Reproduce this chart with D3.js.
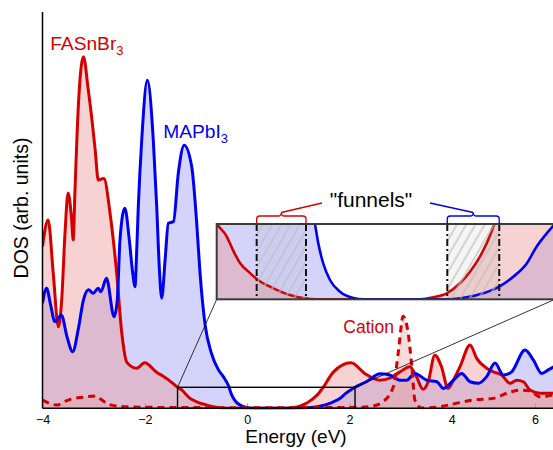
<!DOCTYPE html>
<html>
<head>
<meta charset="utf-8">
<script src="https://cdn.jsdelivr.net/npm/d3@7"></script>
<style>
  body { margin: 0; background: #fff; }
  text { font-family: "Liberation Sans", Arial, sans-serif; }
</style>
</head>
<body>
<div id="chart"></div>
<script>
// DOS curves, [energy (eV), DOS (arb. units, 100 = top of axis)]
var fasnbr3 = [[-4.00,40.8],[-3.89,47.5],[-3.79,34.1],[-3.69,20.6],[-3.625,27.3],[-3.56,44.2],[-3.50,54.3],
  [-3.43,47.5],[-3.40,42.5],[-3.365,55.0],[-3.30,76.1],[-3.20,88.7],[-3.105,80.3],[-3.04,73.6],[-2.97,65.2],
  [-2.91,57.6],[-2.80,58.0],[-2.68,49.3],[-2.55,34.1],[-2.45,19.0],[-2.35,11.6],[-2.16,10.1],[-2.00,11.5],
  [-1.77,9.1],[-1.64,8.1],[-1.45,6.3],[-1.36,5.30],[-1.257,4.42],[-1.193,3.46],[-1.121,2.55],[-1.018,1.84],
  [-0.936,1.36],[-0.783,0.79],[-0.608,0.30],[-0.475,0.09],[-0.334,0],[0.725,0],[0.862,0.14],[0.999,0.42],
  [1.135,1.13],[1.238,1.94],[1.34,3.00],[1.409,3.94],[1.477,5.10],[1.69,9.2],[2.03,11.5],[2.30,8.8],
  [2.60,7.1],[2.79,7.6],[2.99,9.2],[3.18,10.5],[3.31,8.0],[3.44,4.8],[3.54,6.7],[3.67,13.4],[3.80,10.5],
  [3.93,5.0],[4.04,7.1],[4.20,10.5],[4.44,16.0],[4.60,12.6],[4.84,10.1],[5.00,9.2],[5.20,8.4],[5.40,6.3],
  [5.56,7.1],[5.72,6.7],[5.88,4.6],[6.12,3.8],[6.45,3.8]];

var mapbi3 = [[-4.00,26.5],[-3.92,30.3],[-3.84,26.0],[-3.76,21.9],[-3.63,23.5],[-3.52,18.0],[-3.41,14.3],
  [-3.30,20.0],[-3.20,27.3],[-3.10,29.9],[-3.01,29.0],[-2.91,30.3],[-2.86,29.4],[-2.75,32.8],[-2.60,23.1],
  [-2.538,27.3],[-2.485,42.5],[-2.39,50.5],[-2.303,42.5],[-2.236,34.1],[-2.19,30.7],[-2.17,35.7],
  [-2.127,50.9],[-2.06,67.7],[-1.95,82.8],[-1.834,67.7],[-1.767,50.9],[-1.717,35.7],[-1.67,27.8],
  [-1.60,38.0],[-1.54,46.7],[-1.44,47.1],[-1.345,59.3],[-1.23,66.4],[-1.083,61.0],[-0.985,46.7],
  [-0.92,34.1],[-0.82,21.0],[-0.70,14.0],[-0.56,9.7],[-0.465,8.0],[-0.352,5.30],[-0.318,3.94],
  [-0.267,2.52],[-0.198,1.36],[-0.095,0.53],[0.041,0.09],[0.15,0],[0.999,0],[1.204,0.14],[1.374,0.42],
  [1.546,0.93],[1.682,1.59],[1.82,2.52],[1.922,3.71],[2.025,4.64],[2.11,5.30],[2.33,6.7],[2.60,8.7],
  [2.79,8.4],[2.99,7.1],[3.12,7.1],[3.28,8.8],[3.51,7.1],[3.71,6.7],[3.84,5.0],[4.04,7.1],[4.24,8.8],
  [4.44,6.7],[4.64,6.3],[4.84,8.0],[5.04,11.4],[5.24,8.4],[5.44,9.2],[5.76,14.7],[5.96,12.2],[6.16,8.8],
  [6.32,9.7],[6.45,10.5]];

var cation = [[-4.00,2.1],[-3.85,1.2],[-3.72,0.83],[-3.55,1.8],[-3.40,2.5],[-3.20,2.8],[-2.97,3.1],
  [-2.85,2.2],[-2.75,1.26],[-2.55,0.58],[-2.00,0.25],[0,0.15],[2.20,0.25],[2.46,0.58],[2.66,1.67],
  [2.86,5.5],[2.96,14.6],[3.05,23.2],[3.15,18.9],[3.22,10.5],[3.28,2.1],[3.41,0.1],[3.77,0.4],[4.04,1.1],
  [4.52,2.1],[5.00,2.5],[5.32,3.8],[5.64,4.6],[5.88,4.4],[6.12,2.9],[6.45,3.4]];

var xTicks = [-4, -2, 0, 2, 4, 6];
var zoomBox = [-1.36, 2.11, 5.3];            // energy from, energy to, DOS top
var funnels = [[-0.95, -0.444], [1.005, 1.538]];

var red = "#d40000", blue = "#0000f0";

var width = 553, height = 450;
var svg = d3.select("#chart").append("svg")
  .attr("width", width).attr("height", height);

// x axis is stretched differently past 4 eV in the original
var x = d3.scaleLinear().domain([-4, 4, 6]).range([42.5, 451.7, 535]);
var y = d3.scaleLinear().domain([0, 100]).range([408.3, 12]);

// inset (zoomed) scales
var inset = {x0: 216.7, x1: 555, y0: 224, y1: 299.3};
var xi = d3.scaleLinear().domain([zoomBox[0], zoomBox[1]]).range([inset.x0, inset.x1]);
var yi = d3.scaleLinear().domain([0, zoomBox[2]]).range([inset.y1, inset.y0]);

var defs = svg.append("defs");
defs.append("clipPath").attr("id", "plotclip").append("rect")
  .attr("x", x(-4)).attr("y", y(100)).attr("width", width - x(-4)).attr("height", y(0) - y(100) + 1);
defs.append("clipPath").attr("id", "insetclip").append("rect")
  .attr("x", inset.x0).attr("y", inset.y0).attr("width", inset.x1 - inset.x0).attr("height", inset.y1 - inset.y0);
var pat = defs.append("pattern").attr("id", "hatch")
  .attr("patternUnits", "userSpaceOnUse").attr("width", 8).attr("height", 8)
  .attr("patternTransform", "rotate(30)");
pat.append("rect").attr("width", 8).attr("height", 8).attr("fill", "rgba(120,120,120,0.07)");
pat.append("line").attr("x1", 4).attr("y1", 0).attr("x2", 4).attr("y2", 8)
  .attr("stroke", "rgba(190,190,190,0.6)").attr("stroke-width", 2.2);

// ticks (inward, under the fills)
var xAxisCall = d3.axisBottom(x).tickValues(xTicks).tickSizeInner(-5).tickSizeOuter(0).tickPadding(7)
  .tickFormat(d3.format("d"));
var gx = svg.append("g").attr("transform", "translate(0," + y(0) + ")").call(xAxisCall);
gx.select(".domain").remove();
gx.selectAll(".tick line").attr("stroke", "#999");
gx.selectAll(".tick text").attr("font-size", "12.5px").attr("fill", "#000")
  .style("font-family", "'Liberation Sans', Arial, sans-serif");

function drawCurves(g, sx, sy, withCation, lw) {
  var area = d3.area().x(function(d){ return sx(d[0]); }).y0(sy(0))
    .y1(function(d){ return sy(d[1]); }).curve(d3.curveMonotoneX);
  var line = d3.line().x(function(d){ return sx(d[0]); })
    .y(function(d){ return sy(d[1]); }).curve(d3.curveMonotoneX);
  g.append("path").datum(mapbi3).attr("d", area).attr("fill", "rgba(40,40,235,0.2)");
  g.append("path").datum(fasnbr3).attr("d", area).attr("fill", "rgba(236,155,155,0.45)");
  if (withCation) {
    g.append("path").datum(cation).attr("d", area).attr("fill", "rgba(236,155,155,0.35)");
  }
  g.append("path").datum(fasnbr3).attr("d", line).attr("fill", "none")
    .attr("stroke", red).attr("stroke-width", lw).attr("stroke-linejoin", "round");
  g.append("path").datum(mapbi3).attr("d", line).attr("fill", "none")
    .attr("stroke", blue).attr("stroke-width", lw).attr("stroke-linejoin", "round");
  if (withCation) {
    g.append("path").datum(cation).attr("d", line).attr("fill", "none")
      .attr("stroke", red).attr("stroke-width", lw).attr("stroke-dasharray", "7,5");
  }
}

var main = svg.append("g").attr("clip-path", "url(#plotclip)");
drawCurves(main, x, y, true, 3);

// zoom rectangle in main plot and connector lines
svg.append("rect")
  .attr("x", x(zoomBox[0])).attr("y", y(zoomBox[2]))
  .attr("width", x(zoomBox[1]) - x(zoomBox[0])).attr("height", y(0) - y(zoomBox[2]))
  .attr("fill", "none").attr("stroke", "#000").attr("stroke-width", 1.4);
svg.append("line").attr("x1", x(zoomBox[0])).attr("y1", y(zoomBox[2]))
  .attr("x2", inset.x0).attr("y2", inset.y1).attr("stroke", "#000").attr("stroke-width", 0.8);
svg.append("line").attr("x1", x(zoomBox[1])).attr("y1", y(zoomBox[2]))
  .attr("x2", inset.x1).attr("y2", inset.y1).attr("stroke", "#000").attr("stroke-width", 0.8);

// inset
svg.append("rect").attr("x", inset.x0).attr("y", inset.y0)
  .attr("width", inset.x1 - inset.x0).attr("height", inset.y1 - inset.y0).attr("fill", "#fff");
var ig = svg.append("g").attr("clip-path", "url(#insetclip)");
drawCurves(ig, xi, yi, false, 2.6);

funnels.forEach(function(f) {
  ig.append("rect").attr("x", xi(f[0])).attr("y", inset.y0)
    .attr("width", xi(f[1]) - xi(f[0])).attr("height", inset.y1 - inset.y0)
    .attr("fill", "url(#hatch)");
  f.forEach(function(e) {
    ig.append("line").attr("x1", xi(e)).attr("x2", xi(e)).attr("y1", inset.y0).attr("y2", inset.y1)
      .attr("stroke", "#111").attr("stroke-width", 2).attr("stroke-dasharray", "7,3,2,3");
  });
});

svg.append("rect").attr("x", inset.x0).attr("y", inset.y0)
  .attr("width", inset.x1 - inset.x0).attr("height", inset.y1 - inset.y0)
  .attr("fill", "none").attr("stroke", "#3a3a3a").attr("stroke-width", 2);

// braces over the funnels
function brace(xa, xb, yb) {
  var xm = (xa + xb) / 2, p = d3.path();
  p.moveTo(xa, yb); p.lineTo(xa, yb - 5);
  p.quadraticCurveTo(xa, yb - 8, xa + 3, yb - 8);
  p.lineTo(xm - 3, yb - 8);
  p.quadraticCurveTo(xm, yb - 8, xm, yb - 11.5);
  p.quadraticCurveTo(xm, yb - 8, xm + 3, yb - 8);
  p.lineTo(xb - 3, yb - 8);
  p.quadraticCurveTo(xb, yb - 8, xb, yb - 5);
  p.lineTo(xb, yb);
  return p.toString();
}
var braceCol = [red, blue];
var textEnds = [322, 430];
funnels.forEach(function(f, i) {
  var xa = xi(f[0]), xb = xi(f[1]);
  svg.append("path").attr("d", brace(xa, xb, inset.y0)).attr("fill", "none")
    .attr("stroke", braceCol[i]).attr("stroke-width", 1.3);
  svg.append("line").attr("x1", (xa + xb) / 2).attr("y1", inset.y0 - 11.5)
    .attr("x2", textEnds[i]).attr("y2", inset.y0 - 21)
    .attr("stroke", braceCol[i]).attr("stroke-width", 1.3);
});

svg.append("text").attr("x", 371).attr("y", 207).attr("text-anchor", "middle")
  .attr("font-size", "21px").text("\"funnels\"");

// spines
svg.append("line").attr("x1", x(-4)).attr("x2", x(-4)).attr("y1", y(100)).attr("y2", y(0))
  .attr("stroke", "#000").attr("stroke-width", 1.5);
svg.append("line").attr("x1", x(-4)).attr("x2", width).attr("y1", y(0)).attr("y2", y(0))
  .attr("stroke", "#000").attr("stroke-width", 1.5);

// curve labels
function subLabel(txt, sub, ex, ev, col) {
  var t = svg.append("text").attr("x", x(ex)).attr("y", y(ev)).attr("fill", col).attr("font-size", "19.2px");
  t.append("tspan").text(txt);
  t.append("tspan").attr("font-size", "13px").attr("dy", 5).text(sub);
}
subLabel("FASnBr", "3", -3.85, 90.5, red);
subLabel("MAPbI", "3", -1.64, 68.2, blue);
svg.append("text").attr("x", x(2.87)).attr("y", y(18.9)).attr("text-anchor", "end")
  .attr("fill", red).attr("font-size", "17.5px").text("Cation");

// axis titles
svg.append("text").attr("x", 296).attr("y", 443).attr("text-anchor", "middle")
  .attr("font-size", "19px").text("Energy (eV)");
svg.append("text").attr("transform", "translate(28,208) rotate(-90)").attr("text-anchor", "middle")
  .attr("font-size", "19.5px").text("DOS (arb. units)");
</script>
</body>
</html>
